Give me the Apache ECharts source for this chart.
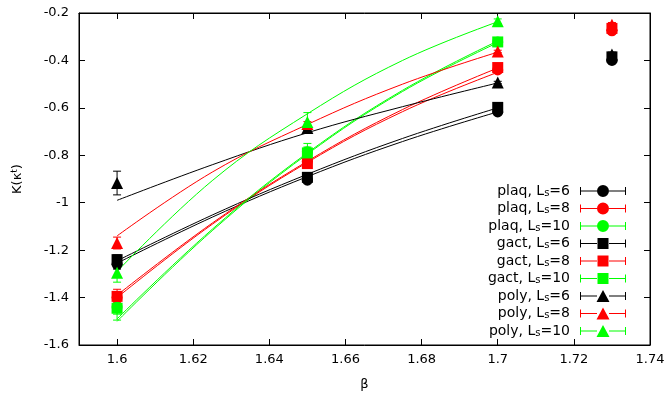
<!DOCTYPE html>
<html><head><meta charset="utf-8">
<script src="https://cdn.jsdelivr.net/npm/echarts@6/dist/echarts.min.js"></script>
<style>html,body{margin:0;padding:0;background:#fff}#c{width:670px;height:398px}</style>
</head><body><div id="c"></div>
<script>
// ---- data ----
const betas = [1.6, 1.65, 1.7, 1.73];
const plaq6  = [-1.26, -0.905, -0.617, -0.40];
const plaq8  = [-1.40, -0.825, -0.44, -0.275];
const plaq10 = [-1.44, -0.785, -0.322];
const gact6  = [-1.24, -0.893, -0.598, -0.385];
const gact8  = [-1.395, -0.835, -0.43, -0.265];
const gact10 = [-1.445, -0.79, -0.322];
const poly6  = [-0.917, -0.685, -0.493, -0.375];
const poly8  = [-1.17, -0.668, -0.362, -0.25];
const poly10 = [-1.295, -0.66, -0.235];
const errPlaq6  = [0.02, 0.01, 0.005, 0.01];
const errPlaq8  = [0.02, 0.01, 0.005, 0.01];
const errPlaq10 = [0.03, 0.02, 0.01];
const errGact6  = [0.02, 0.01, 0.005, 0.01];
const errGact8  = [0.03, 0.01, 0.005, 0.01];
const errGact10 = [0.05, 0.04, 0.01];
const errPoly6  = [0.05, 0.01, 0.005, 0.01];
const errPoly8  = [0.025, 0.01, 0.005, 0.01];
const errPoly10 = [0.04, 0.04, 0.01];
// fit curves, read at these beta values
const fitBetas = [1.6, 1.625, 1.65, 1.675, 1.7];
const fitPlaq6  = [-1.255, -1.061, -0.89, -0.742, -0.617];
const fitPlaq8  = [-1.40, -1.091, -0.83, -0.616, -0.45];
const fitPlaq10 = [-1.50, -1.118, -0.795, -0.531, -0.325];
const fitGact6  = [-1.245, -1.052, -0.88, -0.729, -0.600];
const fitGact8  = [-1.39, -1.086, -0.825, -0.607, -0.432];
const fitGact10 = [-1.49, -1.112, -0.79, -0.526, -0.318];
const fitPoly6  = [-0.99, -0.84, -0.705, -0.595, -0.495];
const fitPoly8  = [-1.14, -0.871, -0.67, -0.50, -0.365];
const fitPoly10 = [-1.29, -0.907, -0.625, -0.40, -0.237];
const xTicks = [1.6, 1.62, 1.64, 1.66, 1.68, 1.7, 1.72, 1.74];
const names = ['plaq, L{s|s}=6','plaq, L{s|s}=8','plaq, L{s|s}=10','gact, L{s|s}=6','gact, L{s|s}=8','gact, L{s|s}=10','poly, L{s|s}=6','poly, L{s|s}=8','poly, L{s|s}=10'];

// ---- styling ----
const BLACK = '#000000', RED = '#ff0000', GREEN = '#00ff00';
const FONT = 'DejaVu Sans';
const sets = [
  {n: names[0], v: plaq6, e: errPlaq6, f: fitPlaq6, c: BLACK, s: 'circle'},
  {n: names[1], v: plaq8, e: errPlaq8, f: fitPlaq8, c: RED, s: 'circle'},
  {n: names[2], v: plaq10, e: errPlaq10, f: fitPlaq10, c: GREEN, s: 'circle'},
  {n: names[3], v: gact6, e: errGact6, f: fitGact6, c: BLACK, s: 'rect'},
  {n: names[4], v: gact8, e: errGact8, f: fitGact8, c: RED, s: 'rect'},
  {n: names[5], v: gact10, e: errGact10, f: fitGact10, c: GREEN, s: 'rect'},
  {n: names[6], v: poly6, e: errPoly6, f: fitPoly6, c: BLACK, s: 'triangle'},
  {n: names[7], v: poly8, e: errPoly8, f: fitPoly8, c: RED, s: 'triangle'},
  {n: names[8], v: poly10, e: errPoly10, f: fitPoly10, c: GREEN, s: 'triangle'}
];
const bar = 'M0,5.5 h17 v1 h-17 z M29,5.5 h17 v1 h-17 z M0,2 h1 v8 h-1 z M45,2 h1 v8 h-1 z ';
const icons = {
  circle: 'path://' + bar + 'M23,0 A6,6 0 1 1 22.99,0 z',
  rect: 'path://' + bar + 'M17.5,0.5 h11 v11 h-11 z',
  triangle: 'path://' + bar + 'M23,0 L29.5,12 L16.5,12 z'
};
const symSize = {circle: 11, rect: 11, triangle: 12};

const series = [];
sets.forEach((d, i) => {
  series.push({
    type: 'line', name: 'fit' + i, data: fitBetas.map((b, j) => [b, d.f[j]]),
    smooth: 0.4, showSymbol: false, symbol: 'none', silent: true,
    lineStyle: {color: d.c, width: 1}, z: 2
  });
});
sets.forEach((d, i) => {
  series.push({
    type: 'custom', name: 'err' + i, silent: true, z: 3,
    data: d.v.map((y, j) => [betas[j], y, d.e[j]]),
    renderItem: function (params, api) {
      const x = api.value(0), y = api.value(1), e = api.value(2);
      const p0 = api.coord([x, y - e]), p1 = api.coord([x, y + e]);
      const st = {stroke: d.c, lineWidth: 1};
      return {type: 'group', children: [
        {type: 'line', shape: {x1: p0[0], y1: p0[1], x2: p1[0], y2: p1[1]}, style: st},
        {type: 'line', shape: {x1: p0[0] - 4, y1: p0[1], x2: p0[0] + 4, y2: p0[1]}, style: st},
        {type: 'line', shape: {x1: p1[0] - 4, y1: p1[1], x2: p1[0] + 4, y2: p1[1]}, style: st}
      ]};
    }
  });
  series.push({
    type: 'scatter', name: d.n, data: d.v.map((y, j) => [betas[j], y]),
    symbol: d.s, symbolSize: symSize[d.s], itemStyle: {color: d.c, opacity: 1}, z: 4
  });
});

const axisLbl = {fontFamily: FONT, fontSize: 13, color: '#000'};
const chart = echarts.init(document.getElementById('c'), null, {renderer: 'canvas'});
chart.setOption({
  animation: false,
  backgroundColor: '#fff',
  grid: {left: 79, right: 20, top: 13, bottom: 53, show: true, borderColor: '#000', borderWidth: 1},
  xAxis: [{
    type: 'value', min: 1.59, max: 1.74, interval: 0.01,
    name: 'β', nameLocation: 'middle', nameGap: 33,
    nameTextStyle: {fontFamily: FONT, fontSize: 13, color: '#000'},
    axisLine: {show: true, lineStyle: {color: '#000'}},
    axisTick: {show: true, inside: true, length: 6, lineStyle: {color: '#000'}, customValues: xTicks},
    axisLabel: Object.assign({margin: 8, customValues: xTicks,
      formatter: v => String(+v.toFixed(2))}, axisLbl),
    splitLine: {show: false}
  }, {
    type: 'value', position: 'top', min: 1.59, max: 1.74, interval: 0.01,
    axisLine: {show: true, lineStyle: {color: '#000'}},
    axisTick: {show: true, inside: true, length: 6, lineStyle: {color: '#000'}, customValues: xTicks},
    axisLabel: {show: false}, splitLine: {show: false}
  }],
  yAxis: [{
    type: 'value', min: -1.6, max: -0.2, interval: 0.2,
    name: 'K(κ{t|t})', nameLocation: 'middle', nameGap: 54, nameRotate: 90,
    nameTextStyle: {fontFamily: FONT, fontSize: 13, color: '#000', rich: {t: {fontFamily: FONT, fontSize: 9, verticalAlign: 'top', padding: [0, 0, 6, 0]}}},
    axisLine: {show: true, lineStyle: {color: '#000'}},
    axisTick: {show: true, inside: true, length: 6, lineStyle: {color: '#000'}},
    axisLabel: Object.assign({margin: 10, formatter: v => String(+v.toFixed(1))}, axisLbl),
    splitLine: {show: false}
  }, {
    type: 'value', position: 'right', min: -1.6, max: -0.2, interval: 0.2,
    axisLine: {show: true, lineStyle: {color: '#000'}},
    axisTick: {show: true, inside: true, length: 6, lineStyle: {color: '#000'}},
    axisLabel: {show: false}, splitLine: {show: false}
  }],
  legend: {
    orient: 'vertical', right: 39, top: 179, align: 'right',
    itemWidth: 46, itemHeight: 12, itemGap: 3.5,
    selectedMode: false,
    data: sets.map(d => ({name: d.n, icon: icons[d.s]})),
    textStyle: {fontFamily: FONT, fontSize: 14, color: '#000', lineHeight: 14,
      rich: {s: {fontFamily: FONT, fontSize: 10, verticalAlign: 'bottom', lineHeight: 14, padding: [4, 0, 0, 0]},
             g: {width: 5}}},
    formatter: n => n + '{g|}'
  },
  series: series
});
</script>
</body></html>
